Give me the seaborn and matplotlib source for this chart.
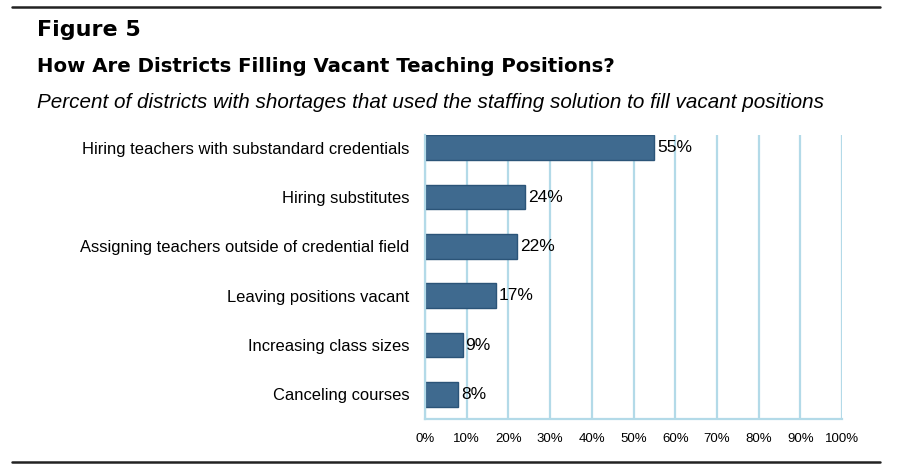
import matplotlib
matplotlib.use("Agg")
import matplotlib.pyplot as plt
import seaborn as sns
import pandas as pd

solutions = [
    "Hiring teachers with substandard credentials",
    "Hiring substitutes",
    "Assigning teachers outside of credential field",
    "Leaving positions vacant",
    "Increasing class sizes",
    "Canceling courses",
]
percents = [55, 24, 22, 17, 9, 8]
ticks = list(range(0, 101, 10))
tick_labels = [f"{t}%" for t in ticks]

df = pd.DataFrame({"solution": solutions, "percent": percents})

sns.set_style("white")
plt.rcParams["font.family"] = ["Liberation Sans", "DejaVu Sans"]
plt.rcParams["text.color"] = "black"
plt.rcParams["xtick.color"] = "black"
plt.rcParams["ytick.color"] = "black"

fig = plt.figure(figsize=(9, 4.69), dpi=100)
ax = fig.add_axes([425 / 900, 1 - 419 / 469, 417 / 900, (419 - 135) / 469])

sns.barplot(data=df, x="percent", y="solution", color="#3F6A8F", width=0.5,
            edgecolor="#2B5478", linewidth=1, ax=ax, saturation=1)

ax.set_xlim(0, 100)
ax.set_ylim(5.5, -0.26)
ax.set_xticks(ticks)
ax.set_xticklabels(tick_labels, fontsize=9.5)
ax.tick_params(axis="y", labelsize=11.9, length=0, pad=11)
ax.tick_params(axis="x", length=0, pad=10)
ax.set_xlabel("")
ax.set_ylabel("")
ax.xaxis.grid(True, color="#B3DAE8", linewidth=1.6)
ax.set_axisbelow(True)
for side in ["top", "right"]:
    ax.spines[side].set_visible(False)
ax.spines["left"].set_color("#B3DAE8")
ax.spines["left"].set_linewidth(1.6)
ax.spines["bottom"].set_color("#B3DAE8")
ax.spines["bottom"].set_linewidth(1.6)

for i, v in enumerate(percents):
    ax.text(v + 0.7, i, f"{v}%", va="center", ha="left", fontsize=12.5, color="black")

fig.text(37 / 900, 1 - 36 / 469, "Figure 5", fontsize=16, fontweight="bold",
         family=["DejaVu Sans"], va="baseline")
fig.text(37 / 900, 1 - 72 / 469, "How Are Districts Filling Vacant Teaching Positions?",
         fontsize=14.2, fontweight="bold", family=["DejaVu Sans"], va="baseline")
fig.text(37 / 900, 1 - 108 / 469,
         "Percent of districts with shortages that used the staffing solution to fill vacant positions",
         fontsize=14.9, style="italic", va="baseline")

fig.add_artist(plt.Line2D([12 / 900, 880 / 900], [1 - 7 / 469, 1 - 7 / 469], color="#222222", linewidth=1.8))
fig.add_artist(plt.Line2D([12 / 900, 880 / 900], [1 - 462 / 469, 1 - 462 / 469], color="#222222", linewidth=1.8))

fig.savefig("out.png", dpi=100)
